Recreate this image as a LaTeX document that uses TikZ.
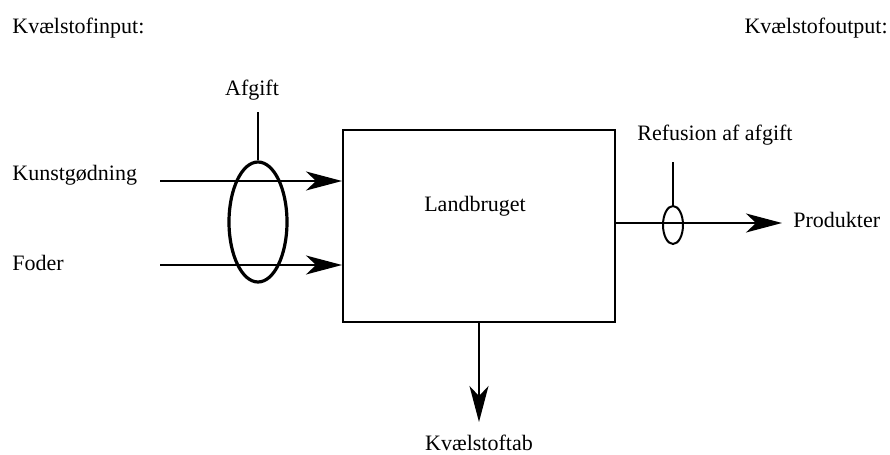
\documentclass[tikz,border=0pt]{standalone}
\usepackage{fontspec}
\setmainfont{Liberation Serif}
\usepackage{tikz}
\usetikzlibrary{arrows.meta,calc,positioning,shapes.geometric}
\tikzset{
    >={Stealth[length=18pt,width=9.5pt,inset=5pt]},
    kasse/.style={
           rectangle,
           draw=black, line width=1pt,
           minimum width=136pt,
           minimum height=96pt,
           inner sep=0pt},
    ring/.style={
           ellipse,
           draw=black, line width=1.6pt,
           inner sep=0pt},
    tekst/.style={
           font=\fontsize{11}{13}\selectfont,
           inner sep=0pt},
    pil/.style={
           ->,
           line width=0.9pt}
}
\begin{document}
\begin{tikzpicture}[x=0.5pt, y=-0.5pt]
        \useasboundingbox (0,0) rectangle (890,455);
        \node[tekst, anchor=west] (ninput) at (12,28) {Kvælstofinput:};
        \node[tekst, anchor=east] (noutput) at (888,28) {Kvælstofoutput:};

        \node[kasse] (box) at (479,226) {};
        \node[tekst] (landbrug) at (475,206) {Landbruget};

        \node[tekst, anchor=west] (kunst) at (12,175) {Kunstgødning};
        \node[tekst, anchor=west] (foder) at (12,263) {Foder};
        \coordinate (kin) at (160,181);
        \coordinate (fin) at (160,265);
        \draw[pil] (kin) -- (kin -| box.west);
        \draw[pil] (fin) -- (fin -| box.west);

        \node[ring, minimum width=29pt, minimum height=60pt] (afgring) at (258,222) {};
        \node[tekst] (afgift) at (252,90) {Afgift};
        \coordinate (afgtop) at (258,112);
        \draw[line width=0.9pt] (afgtop) -- (afgring.north);

        \coordinate (produt) at (782,223);
        \draw[pil] (box.east |- produt) -- (produt);
        \node[tekst, anchor=west] (produkter) at (793,220) {Produkter};
        \node[ring, line width=1pt, minimum width=10pt, minimum height=19pt] (refring) at (673,225) {};
        \node[tekst] (refusion) at (715,135) {Refusion af afgift};
        \coordinate (reftop) at (673,162);
        \draw[line width=0.9pt] (reftop) -- (refring.north);

        \coordinate (tab) at (479,422);
        \draw[pil] (box.south) -- (tab);
        \node[tekst] (kvtab) at (479,443) {Kvælstoftab};
\end{tikzpicture}
\end{document}
